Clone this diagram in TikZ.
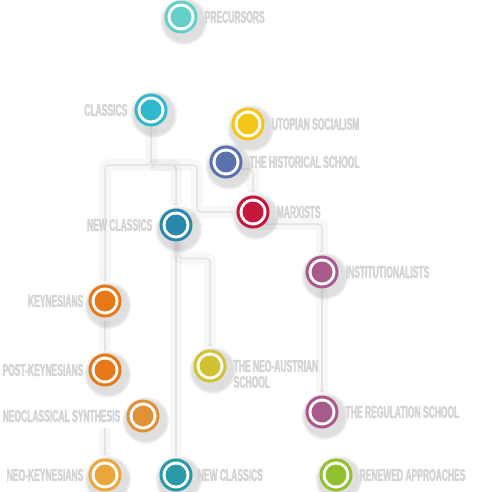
\documentclass[tikz,border=0pt]{standalone}
\usepackage{fontspec}
\setmainfont{Liberation Sans}[FakeStretch=0.5, FakeBold=2]
\usepackage{tikz}
\usetikzlibrary{positioning}
\usetikzlibrary{backgrounds}
\usetikzlibrary{shadows}
\usetikzlibrary{arrows.meta}
\definecolor{txtgray}{HTML}{D4D4D4}
\definecolor{linegray}{HTML}{E3E3E3}
\definecolor{cPre}{HTML}{62CFC9}
\definecolor{cCla}{HTML}{30B9CC}
\definecolor{cUto}{HTML}{F5C518}
\definecolor{cHis}{HTML}{5A72AD}
\definecolor{cMar}{HTML}{C4173B}
\definecolor{cNcl}{HTML}{2A88AD}
\definecolor{cIns}{HTML}{A95A8A}
\definecolor{cKey}{HTML}{E67817}
\definecolor{cNeo}{HTML}{D2C231}
\definecolor{cNcs}{HTML}{E0913A}
\definecolor{cNkey}{HTML}{EBA73A}
\definecolor{cNcb}{HTML}{289AA8}
\definecolor{cRen}{HTML}{92C02E}
\tikzstyle{school} = [circle, minimum size=30pt, inner sep=0pt, line width=3pt, fill=white, circular drop shadow={shadow scale=1.6, shadow xshift=1.5pt, shadow yshift=-2.5pt, opacity=.25}]
\tikzset{dot/.style={school, draw=#1, path picture={\fill[#1] (path picture bounding box.center) circle (10.5pt);}}}
\tikzstyle{schoolname} = [text=txtgray, font=\bfseries\fontsize{17}{16}\selectfont, inner sep=0pt]
\tikzstyle{link} = [draw=linegray, line width=1.5pt, rounded corners=4pt, preaction={-, draw=black, opacity=.03, line width=12pt}]
\tikzstyle{arrow} = [link, -{To[length=2.5pt,width=4.5pt]}, shorten >=3pt]

\begin{document}
\begin{tikzpicture}[x=1pt, y=-1pt]
\useasboundingbox (0,0) rectangle (478,492);
% schools
\node (pre) [dot=cPre] at (181,17) {};
\node (cla) [dot=cCla] at (151,110) {};
\node (uto) [dot=cUto] at (248,124) {};
\node (his) [dot=cHis] at (226,162) {};
\node (mar) [dot=cMar] at (253,212) {};
\node (ncl) [dot=cNcl] at (176,225) {};
\node (ins) [dot=cIns] at (322,272) {};
\node (key) [dot=cKey] at (105,301) {};
\node (neo) [dot=cNeo] at (210,366) {};
\node (pk) [dot=cKey] at (105,370) {};
\node (ncs) [dot=cNcs] at (143,416) {};
\node (reg) [dot=cIns] at (322,412) {};
\node (nk) [dot=cNkey] at (105,475) {};
\node (ncb) [dot=cNcb] at (176,475) {};
\node (ren) [dot=cRen] at (336,475) {};
% names
\node (preL) [schoolname, right=7pt of pre] {PRECURSORS};
\node (claL) [schoolname, left=7pt of cla] {CLASSICS};
\node (utoL) [schoolname, right=7pt of uto] {UTOPIAN SOCIALISM};
\node (hisL) [schoolname, right=7pt of his] {THE HISTORICAL SCHOOL};
\node (marL) [schoolname, right=7pt of mar] {MARXISTS};
\node (nclL) [schoolname, left=7pt of ncl] {NEW CLASSICS};
\node (insL) [schoolname, right=7pt of ins] {INSTITUTIONALISTS};
\node (keyL) [schoolname, left=5pt of key] {KEYNESIANS};
\node (neoL) [schoolname, align=left, anchor=west] at ([xshift=7pt,yshift=-8pt]neo.east) {THE NEO-AUSTRIAN\\SCHOOL};
\node (pkL) [schoolname, left=5pt of pk] {POST-KEYNESIANS};
\node (ncsL) [schoolname, left=6pt of ncs] {NEOCLASSICAL SYNTHESIS};
\node (regL) [schoolname, right=7pt of reg] {THE REGULATION SCHOOL};
\node (nkL) [schoolname, left=5pt of nk] {NEO-KEYNESIANS};
\node (ncbL) [schoolname, right=5pt of ncb] {NEW CLASSICS};
\node (renL) [schoolname, right=7pt of ren] {RENEWED APPROACHES};
\coordinate (split) at (151,165);
\coordinate (bend) at (197,165);
% links
\begin{scope}[on background layer]
\fill[white] (0,0) rectangle (478,492);
\draw [arrow] (cla) -- (split) -| (key);
\draw [arrow] (split) -| (ncl);
\draw [arrow] (split) -- (bend) |- (mar);
\draw [arrow] (his) -- ++(0,7) -| (mar);
\draw [arrow] (mar) -- ++(0,12) -| (ins);
\draw [arrow] (ins) -- (reg);
\draw [arrow] (ncl) -- (ncb);
\draw [arrow] ([xshift=2.5pt]ncl.south) -- ++(0,17) -| (neo);
\draw [link, shorten <=3pt, shorten >=3pt] (key) -- (pk);
\draw [arrow] ([yshift=-6pt]ncsL.south -| nk) -- (nk);
\end{scope}
\end{tikzpicture}
\end{document}
